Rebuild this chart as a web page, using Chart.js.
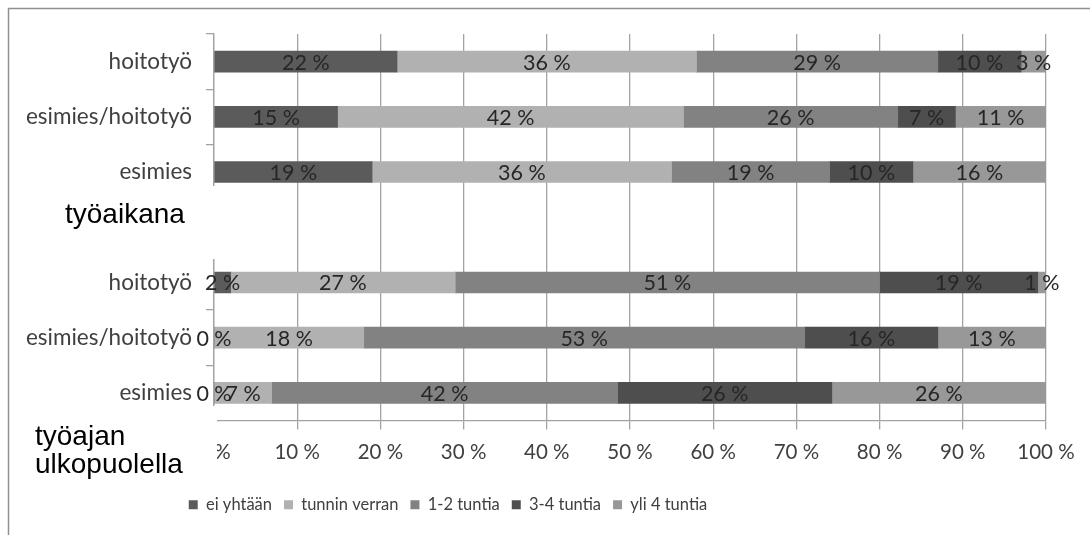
<!DOCTYPE html>
<html>
<head>
<meta charset="utf-8">
<script src="https://cdn.jsdelivr.net/npm/chart.js@4/dist/chart.umd.min.js"></script>
<style>
  html, body { margin: 0; padding: 0; background: #fff; }
  #wrap { width: 1090px; height: 535px; }
</style>
</head>
<body>
<div id="wrap"><canvas id="chart" width="1090" height="535"></canvas></div>
<script>
// ===== Data =====
const categories = ['hoitotyö', 'esimies/hoitotyö', 'esimies', '', 'hoitotyö', 'esimies/hoitotyö', 'esimies'];
const seriesNames = ['ei yhtään', 'tunnin verran', '1-2 tuntia', '3-4 tuntia', 'yli 4 tuntia'];
const eiYhtaan     = [22, 15, 19, null, 2, 0, 0];
const tunninVerran = [36, 42, 36, null, 27, 18, 7];
const tuntia12     = [29, 26, 19, null, 51, 53, 42];
const tuntia34     = [10, 7, 10, null, 19, 16, 26];
const yli4         = [3, 11, 16, null, 1, 13, 26];
const groupLabels = [['työaikana'], ['työajan', 'ulkopuolella']];
const xTicks = [0, 10, 20, 30, 40, 50, 60, 70, 80, 90, 100];

const COLORS = ['#5b5b5b', '#b1b1b1', '#828282', '#4e4e4e', '#989898'];
const LABEL_FONT = 'Lato, "Open Sans", sans-serif';

// 100 % pinottu: skaalataan rivin summa sataan
const raw = [eiYhtaan, tunninVerran, tuntia12, tuntia34, yli4];
const rowSums = categories.map((_, i) => raw.reduce((s, arr) => s + (arr[i] || 0), 0));
const normalized = raw.map(arr => arr.map((v, i) => v === null ? null : v / rowSums[i] * 100));

// ===== Plugins =====
const framePlugin = {
  id: 'frame',
  beforeDraw(chart) {
    const ctx = chart.ctx;
    ctx.save();
    ctx.strokeStyle = '#8f8f8f';
    ctx.lineWidth = 1.5;
    ctx.beginPath();
    ctx.moveTo(8.5, chart.height);
    ctx.lineTo(8.5, 8.5);
    ctx.lineTo(chart.width, 8.5);
    ctx.stroke();
    ctx.restore();
  },
};

// legenda ei ole keskellä kuvaa vaan vähän vasemmalla
const legendShift = {
  id: 'legendShift',
  afterLayout(chart) {
    const lg = chart.legend;
    const dx = 448 - (lg.left + lg.right) / 2;
    lg.left += dx;
    lg.right += dx;
  },
};

const valueLabels = {
  id: 'valueLabels',
  afterDatasetsDraw(chart) {
    const ctx = chart.ctx;
    ctx.save();
    ctx.font = '21.5px ' + LABEL_FONT;
    ctx.fillStyle = '#262626';
    ctx.textAlign = 'center';
    ctx.textBaseline = 'middle';
    chart.data.datasets.forEach((ds, di) => {
      const meta = chart.getDatasetMeta(di);
      meta.data.forEach((el, i) => {
        const v = raw[di][i];
        if (v === null) return;
        ctx.fillText(v + ' %', (el.x + el.base) / 2, el.y + 1);
      });
    });
    ctx.restore();
  },
};

const groupText = {
  id: 'groupText',
  afterDraw(chart) {
    const ctx = chart.ctx;
    ctx.save();
    ctx.fillStyle = '#fff';
    ctx.fillRect(40, 186, 175, 73);
    ctx.fillRect(20, 406, 197, 78);
    ctx.fillStyle = '#000';
    ctx.font = '28px "Liberation Sans", Arial, sans-serif';
    ctx.textBaseline = 'alphabetic';
    ctx.textAlign = 'left';
    ctx.fillText(groupLabels[0][0], 65, 223);
    ctx.fillText(groupLabels[1][0], 35, 445);
    ctx.fillText(groupLabels[1][1], 35, 473);
    ctx.restore();
  },
};

// ===== Chart =====
const ctx = document.getElementById('chart').getContext('2d');
new Chart(ctx, {
  type: 'bar',
  data: {
    labels: categories,
    datasets: seriesNames.map((name, i) => ({
      label: name,
      data: normalized[i],
      backgroundColor: COLORS[i],
      borderWidth: 0,
      barThickness: 21,
    })),
  },
  options: {
    indexAxis: 'y',
    responsive: false,
    animation: false,
    layout: { padding: { top: 34, right: 44, bottom: 12, left: 0 } },
    scales: {
      x: {
        stacked: true,
        min: 0, max: 100,
        afterBuildTicks: (scale) => { scale.ticks = xTicks.map(v => ({ value: v })); },
        afterFit: (scale) => { scale.height = 64; },
        grid: { color: '#a3a3a3', lineWidth: 1.3, tickLength: 9 },
        border: { color: '#a3a3a3', width: 1.3 },
        ticks: {
          padding: 11,
          color: '#404040',
          font: { family: LABEL_FONT, size: 20.5 },
          callback: (v) => v + ' %',
        },
      },
      y: {
        stacked: true,
        afterFit: (scale) => { scale.width = 214; },
        grid: { drawOnChartArea: false, color: '#a3a3a3', lineWidth: 1.3, tickLength: 8 },
        border: { color: '#a3a3a3', width: 1.3 },
        ticks: {
          padding: 14,
          color: '#404040',
          font: { family: LABEL_FONT, size: 22.5 },
        },
      },
    },
    plugins: {
      legend: {
        position: 'bottom',
        labels: {
          boxWidth: 9,
          boxHeight: 9,
          padding: 12,
          color: '#404040',
          font: { family: LABEL_FONT, size: 16.5 },
        },
      },
      tooltip: { enabled: false },
    },
  },
  plugins: [framePlugin, legendShift, valueLabels, groupText],
});
</script>
</body>
</html>
